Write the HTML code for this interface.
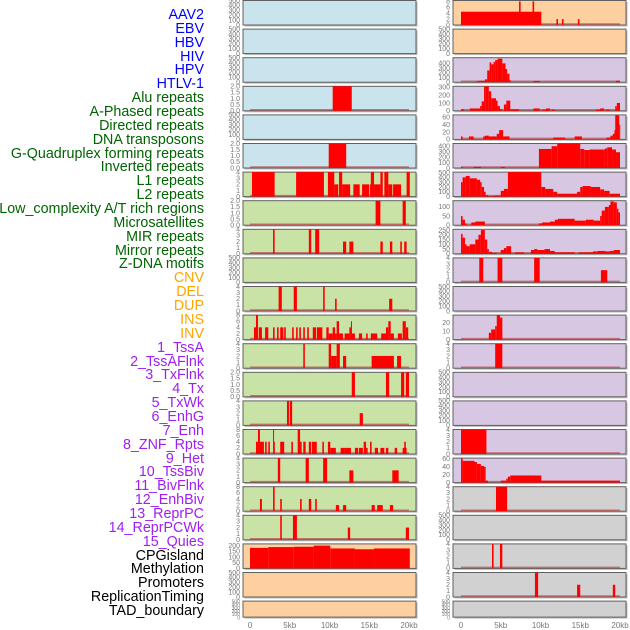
<!DOCTYPE html>
<html><head><meta charset="utf-8"><style>
html,body{margin:0;padding:0;background:#fff;width:630px;height:630px;overflow:hidden}
#labels{position:absolute;left:0;top:0;width:204px;height:630px}
.lab{position:absolute;right:0;font-family:"Liberation Sans",sans-serif;font-size:14.3px;line-height:14px;white-space:nowrap;transform:translateY(-50%)}
svg{position:absolute;left:0;top:0}
</style></head><body>
<div id="labels"></div>
<svg id="chart" width="630" height="630"></svg>
<script>
const trackNames=["AAV2","EBV","HBV","HIV","HPV","HTLV-1","Alu repeats","A-Phased repeats","Directed repeats","DNA transposons","G-Quadruplex forming repeats","Inverted repeats","L1 repeats","L2 repeats","Low_complexity A/T rich regions","Microsatellites","MIR repeats","Mirror repeats","Z-DNA motifs","CNV","DEL","DUP","INS","INV","1_TssA","2_TssAFlnk","3_TxFlnk","4_Tx","5_TxWk","6_EnhG","7_Enh","8_ZNF_Rpts","9_Het","10_TssBiv","11_BivFlnk","12_EnhBiv","13_ReprPC","14_ReprPCWk","15_Quies","CPGisland","Methylation","Promoters","ReplicationTiming","TAD_boundary"];
const trackColors=[].concat(Array(6).fill("#0000ff"),Array(13).fill("#006400"),Array(5).fill("#ffa500"),Array(15).fill("#a020f0"),Array(5).fill("#000000"));
const xTickValues=[0,5,10,15,20];
const xTickLabels=["0","5kb","10kb","15kb","20kb"];
const T500=["0","100","200","300","400","500"],T2=["0.0","0.5","1.0","1.5","2.0"],T4=["0","1","2","3","4"],T8=["0","2","4","6","8"];
const leftBg=["b","b","b","b","b","b","g","g","g","g","g","g","g","g","g","g","g","g","g","o","o","o"];
const rightBg=["o","o","p","p","p","p","p","p","p","p","p","p","p","p","p","p","p","y","y","y","y","y"];
const leftMax=[500,500,500,2,500,2,4,2,4,500,4,8,4,2,4,8,4,8,4,215,500,500];
const leftTicks=[T500,T500,T500,T2,T500,T2,T4,T2,T4,T500,T4,T8,T4,T2,T4,T8,T4,T8,T4,["0","50","100","150","200"],T500,T500];
const leftSegs=[[],[],[],
[[10.4,12.8,2]],[],
[[9.9,12.1,2]],
[[0.25,3.1,4],[5.8,9.3,4],[9.8,10.6,4],[10.6,11.1,2],[11.2,11.6,4],[11.6,12.6,2],[13.0,13.8,2],[14.1,15.0,2],[15.1,15.2,2],[15.2,15.6,4],[15.6,16.4,2],[16.4,16.7,4],[16.9,17.4,4],[17.4,17.9,2],[18.0,19.0,2],[19.7,20.1,4]],
[[15.8,16.4,2],[19.2,19.6,2]],
[[2.9,3.1,4],[7.4,7.7,4],[8.2,8.7,4],[11.7,12.1,2],[12.5,13.0,2],[16.4,16.7,2],[17.6,17.9,2],[18.9,19.1,2],[19.4,19.7,2]],
[],
[[3.6,4.0,4],[5.5,5.9,4],[9.2,9.4,4],[10.7,10.9,2],[17.5,17.9,2]],
[[0.5,0.75,4],[0.75,1.0,8],[1.1,1.5,4],[1.9,2.3,4],[2.9,3.1,4],[3.4,3.6,4],[3.8,4.2,4],[4.3,4.5,4],[5.3,5.5,4],[5.8,6.0,4],[6.2,6.4,4],[6.7,6.9,4],[7.2,7.4,4],[7.9,8.3,4],[8.4,9.1,4],[9.6,9.9,4],[9.9,10.4,2],[10.4,10.7,4],[10.7,10.9,2],[10.9,11.2,6],[11.2,11.7,2],[11.9,12.2,2],[12.2,12.5,2],[12.5,12.7,4],[12.7,12.8,6],[12.8,13.2,2],[13.7,14.1,2],[14.6,14.8,2],[15.2,16.0,2],[16.5,17.1,2],[17.1,17.4,4],[17.4,17.7,6],[17.7,18.1,2],[18.6,19.1,2],[19.2,19.6,6],[19.6,19.9,4]],
[[6.7,6.9,4],[9.9,10.2,4],[10.2,10.9,2],[10.9,11.3,4],[11.7,12.1,2],[15.3,18.1,2],[18.5,19.0,2]],
[[12.8,13.2,2],[17.1,17.5,2],[19.0,19.4,2],[19.6,20.0,2]],
[[4.65,4.9,4],[5.0,5.3,4],[13.8,14.2,2]],
[[0.75,1.0,4],[1.0,1.25,8],[1.25,1.75,4],[1.9,2.1,4],[2.3,2.5,4],[2.9,3.0,8],[3.0,3.1,4],[3.8,4.3,4],[5.2,5.4,4],[6.0,6.3,8],[6.3,6.5,4],[6.7,7.0,4],[7.4,7.7,4],[7.8,8.4,4],[9.1,9.3,4],[9.8,10.1,4],[10.1,10.8,2],[11.4,11.9,2],[11.9,12.7,2],[13.2,13.6,2],[13.7,14.2,2],[14.3,14.6,4],[14.6,14.8,2],[15.1,15.3,4],[15.7,16.1,2],[16.4,16.9,2],[17.1,17.4,2],[18.2,18.5,2],[19.2,19.7,2],[19.4,19.6,4]],
[[3.5,3.8,4],[7.0,7.4,4],[9.2,9.7,4],[12.5,13.0,2],[17.9,18.7,2]],
[[1.25,1.5,4],[2.9,3.1,8],[3.8,4.0,4],[6.3,6.5,4],[7.4,7.7,4],[8.2,8.4,4],[10.8,11.2,2],[11.7,12.1,2],[15.3,15.7,2],[16.0,16.7,2],[17.6,18.0,2]],
[[3.8,4.0,4],[5.4,5.9,4],[12.3,12.6,2],[19.6,20.0,2]],
[[0,2.3,180],[2.3,5.5,187],[5.5,8.0,190],[8.0,10.1,200],[10.1,13.2,175],[13.2,15.6,168],[15.6,20.1,175]],
[],[]];
const rightMax=[8.3,500,520,313,66,450,510,134,258,4,500,29,4,500,500,4,62,4,500,4,4,500];
const rightTicks=[T8,T500,["0","100","200","300","400"],["0","100","200","300"],["0","20","40","60"],["0","100","200","300","400"],T500,["0","50","100"],["0","50","100","150","200","250"],T4,T500,["0","10","20"],T4,T500,T500,T4,["0","20","40","60"],T4,T500,T4,T4,T500];
const rightSegs=[
[[0,10.1,4.5],[7.3,7.5,8],[9.0,9.2,8],[12.0,12.2,2],[12.7,12.9,2],[14.7,14.9,2]],
[],
[[1.8,2.2,15],[2.2,3.0,30],[3.0,3.3,60],[3.3,3.6,250],[3.6,3.8,420],[3.8,4.1,380],[4.1,4.3,430],[4.3,4.6,470],[4.6,5.2,500],[5.2,5.6,400],[5.6,5.8,280],[5.8,6.1,180],[6.1,6.25,40],[9.1,9.9,25],[19.5,20,30]],
[[0,0.4,20],[1.1,2.4,30],[2.4,2.6,60],[2.6,2.9,120],[2.9,3.1,350],[3.1,3.5,420],[3.5,3.8,250],[3.8,4.4,160],[4.4,4.6,130],[4.6,4.9,60],[4.9,5.2,20],[5.4,5.7,80],[5.7,6.2,130],[6.2,7.3,20],[9.1,9.9,30],[10.2,10.7,15],[10.7,11.2,30],[11.4,11.8,15],[17.0,17.5,15],[17.5,18.0,30],[18.2,18.7,15],[19.4,19.6,60],[19.6,20.0,100]],
[[0,0.2,8],[1.0,1.6,8],[2.8,3.0,8],[3.0,3.5,10],[3.5,4.5,8],[4.5,4.8,15],[4.8,5.3,25],[5.3,6.1,8],[11.6,13.1,5],[14.3,15.2,8],[18.3,18.8,5],[18.8,19.1,10],[19.1,19.3,15],[19.3,19.4,25],[19.4,19.9,65],[19.9,20.0,40]],
[[0,0.2,20],[1.6,2.5,20],[5.0,5.5,20],[9.8,11.4,350],[11.4,12.1,400],[12.1,15.0,450],[15.0,15.5,350],[15.5,16.2,330],[16.2,18.1,340],[18.1,18.4,360],[18.4,19.0,380],[19.0,19.5,340],[19.5,20,290]],
[[0,0.2,300],[0.2,0.6,400],[0.6,1.1,430],[1.1,2.0,380],[2.0,2.4,350],[2.4,2.6,300],[2.6,2.9,200],[2.9,3.1,100],[3.1,3.4,30],[3.4,4.2,10],[4.2,5.0,20],[5.0,5.4,120],[5.4,5.9,160],[5.9,10.1,510],[10.1,10.6,200],[10.6,11.6,160],[11.6,12.1,100],[12.1,14.6,60],[14.6,15.0,100],[15.0,15.3,200],[15.3,16.3,220],[16.3,17.5,200],[17.5,18.0,150],[18.0,18.7,120],[18.7,20.0,60]],
[[0,0.2,50],[0.2,0.5,30],[0.5,0.7,10],[1.3,1.8,15],[1.8,3.0,20],[9.8,10.2,10],[10.2,11.2,15],[11.2,11.8,20],[11.8,12.2,30],[12.2,14.3,35],[14.3,15.7,25],[15.7,16.7,30],[16.7,17.5,25],[17.5,17.7,50],[17.7,18.1,80],[18.1,18.6,100],[18.6,18.8,110],[18.8,19.2,130],[19.2,19.6,125],[19.6,19.8,90],[19.8,20,70]],
[[0,0.2,210],[0.2,0.5,170],[0.5,0.7,100],[0.7,1.1,80],[1.1,1.8,100],[1.8,2.2,150],[2.2,2.5,200],[2.5,3.0,250],[3.0,3.3,150],[3.3,3.5,50],[3.5,3.9,20],[3.9,4.5,10],[5.0,5.4,40],[5.4,5.7,60],[5.7,6.3,80],[6.8,7.9,15],[8.8,9.2,40],[9.2,9.6,50],[9.6,10.5,40],[10.5,11.2,50],[11.2,11.8,30],[11.8,14.3,15],[14.8,16.6,15],[16.6,17.2,25],[17.2,18.2,30],[18.2,18.7,25],[18.7,19.2,30],[19.2,20,40]],
[[2.3,2.8,4],[4.6,5.2,4],[9.2,9.9,4],[17.6,18.4,2]],
[],
[[3.5,3.8,8],[3.8,4.3,12],[4.3,4.5,16],[4.5,4.9,29],[4.9,5.2,26]],
[[4.3,5.2,4]],
[],[],
[[0,3.2,4]],
[[0,0.2,62],[0.2,1.7,55],[1.7,2.0,52],[2.0,2.5,47],[2.5,2.9,42],[2.9,3.1,40],[3.1,3.4,5],[5.0,5.7,5],[5.7,5.9,10],[5.9,6.2,15],[6.2,10.1,18],[10.1,20.0,5]],
[[4.4,5.8,4]],
[],
[[3.9,4.1,4],[4.9,5.2,4]],
[[9.3,9.7,4],[14.6,15.0,2],[19.1,19.4,2]],
[]];

const BG={b:"#c9e4ec",g:"#c9e2a5",o:"#fed09f",p:"#d7c7e3",y:"#d1d1d1"};
const NS="http://www.w3.org/2000/svg";
const svg=document.getElementById("chart");
function mk(tag,attrs,parent){const e=document.createElementNS(NS,tag);for(const k in attrs)e.setAttribute(k,attrs[k]);(parent||svg).appendChild(e);return e;}

const labDiv=document.getElementById("labels");
trackNames.forEach((n,i)=>{
  const d=document.createElement("div");
  d.className="lab";
  d.style.top=(15+i*13.86)+"px";
  d.style.color=trackColors[i];
  d.textContent=n;
  
  
  labDiv.appendChild(d);
});

const ROWSTEP=28.6,PH=24.5;
function xScale(col,kb){return (col===0?250:461)+kb*7.95;}
function drawCol(col,bgs,maxs,ticks,segs){
  const px=col===0?243:453,pw=173;
  for(let r=0;r<22;r++){
    const top=r*ROWSTEP+0.5,h=(r===21?16:PH);
    const g=mk("g",{});
    
    
    mk("rect",{x:px+1.5,y:top+1.5,width:pw,height:h,fill:"#bbb"},g);
    mk("rect",{x:px,y:top,width:pw,height:h,fill:BG[bgs[r]],stroke:"#606060","stroke-width":1},g);
    const yS=v=>top+h-Math.min(v,maxs[r])/maxs[r]*h;
    const tl=ticks[r];
    tl.forEach(t=>{
      const v=parseFloat(t);
      const tx=mk("text",{x:px-3,y:yS(v)+2.3,"font-size":r===21?5:7,"text-anchor":"end",fill:"#777","font-family":"Liberation Sans, sans-serif"},g);
      tx.textContent=t;
      
      
    });
    const sg=segs[r];
    if(sg.length){
      const bl=mk("line",{x1:xScale(col,0),x2:xScale(col,20),y1:top+h-1,y2:top+h-1,stroke:"rgba(190,70,70,0.7)","stroke-width":1.5},g);
      
      
    }
    sg.forEach(s=>{
      const x1=xScale(col,s[0]),x2=xScale(col,s[1]);
      const y=yS(s[2]);
      const b=mk("rect",{x:x1,y:y,width:Math.max(1,x2-x1),height:top+h-y,fill:"#ff0000"},g);
      
      
    });
  }
  xTickValues.forEach((v,i)=>{
    const t=mk("text",{x:xScale(col,v),y:628,"font-size":8,"text-anchor":"middle",fill:"#777","font-family":"Liberation Sans, sans-serif"});
    t.textContent=xTickLabels[i];
    
    
  });
}
drawCol(0,leftBg,leftMax,leftTicks,leftSegs);
drawCol(1,rightBg,rightMax,rightTicks,rightSegs);
</script>
</body></html>
